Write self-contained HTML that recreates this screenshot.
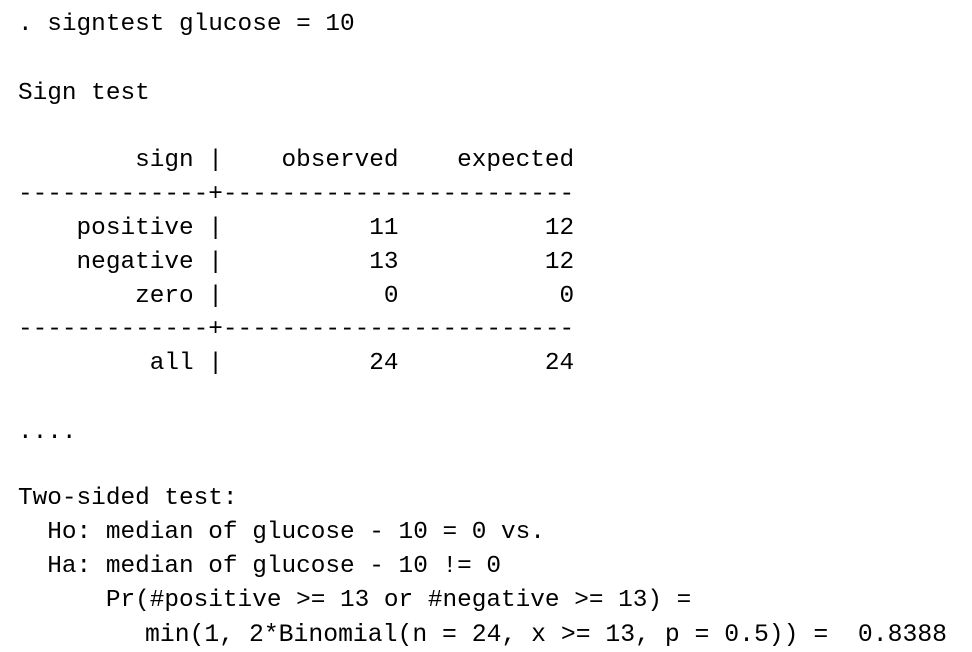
<!DOCTYPE html>
<html><head><meta charset="utf-8"><style>
html,body{margin:0;padding:0;background:#fff;}
body{width:972px;height:652px;position:relative;overflow:hidden;}
.l{position:absolute;white-space:pre;font-family:"Liberation Mono",monospace;font-size:24.4px;line-height:34px;color:#000;height:34px;}
</style></head><body>
<div class="l" style="left:18px;top:8px">. signtest glucose = 10</div>
<div class="l" style="left:18px;top:77px">Sign test</div>
<div class="l" style="left:18px;top:144px">        sign |    observed    expected</div>
<div class="l" style="left:18px;top:178px">-------------+------------------------</div>
<div class="l" style="left:18px;top:212px">    positive |          11          12</div>
<div class="l" style="left:18px;top:246px">    negative |          13          12</div>
<div class="l" style="left:18px;top:280px">        zero |           0           0</div>
<div class="l" style="left:18px;top:313px">-------------+------------------------</div>
<div class="l" style="left:18px;top:347px">         all |          24          24</div>
<div class="l" style="left:18px;top:416px">....</div>
<div class="l" style="left:18px;top:482px">Two-sided test:</div>
<div class="l" style="left:18px;top:516px">  Ho: median of glucose - 10 = 0 vs.</div>
<div class="l" style="left:18px;top:550px">  Ha: median of glucose - 10 != 0</div>
<div class="l" style="left:18px;top:584px">      Pr(#positive &gt;= 13 or #negative &gt;= 13) =</div>
<div class="l" style="left:145px;top:618px;font-size:24.75px">min(1, 2*Binomial(n = 24, x &gt;= 13, p = 0.5)) =  0.8388</div>
</body></html>
